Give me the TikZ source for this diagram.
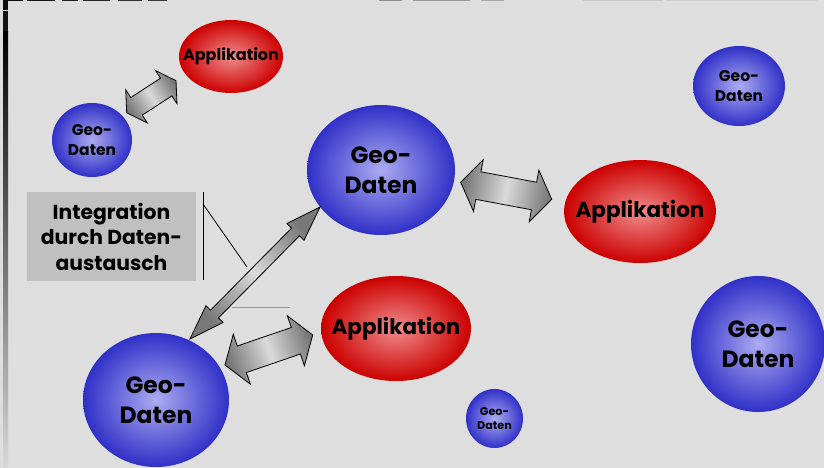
\documentclass[tikz,border=0pt]{standalone}
\usepackage{fontspec}
\setmainfont{Poppins}
\usetikzlibrary{shapes.geometric}
\definecolor{bg}{RGB}{222,222,222}
\definecolor{geoin}{RGB}{172,172,242}
\definecolor{geoout}{RGB}{48,48,200}
\definecolor{appin}{RGB}{240,140,140}
\definecolor{appout}{RGB}{204,0,0}
\definecolor{boxfill}{RGB}{192,192,192}
\definecolor{arrdark}{RGB}{120,120,120}
\definecolor{arrlight}{RGB}{218,218,218}
\newcommand{\fatarrow}[6]{%
\begin{scope}[shift={(#1)}, rotate=#2]
\pgfmathsetmacro{\fahl}{#3/2}
\pgfmathsetmacro{\fahk}{#3/2-#6}
\pgfmathsetmacro{\fashang}{90+#2}
\draw[fatarrowstyle, shading angle=\fashang] (-\fahl,0) -- (-\fahk,#5) -- (-\fahk,#4) -- (\fahk,#4) -- (\fahk,#5) -- (\fahl,0) -- (\fahk,-#5) -- (\fahk,-#4) -- (-\fahk,-#4) -- (-\fahk,-#5) -- cycle;
\end{scope}}
\tikzset{
  fatarrowstyle/.style={draw=black, line width=0.8pt, line join=miter, left color=arrdark, right color=arrdark, middle color=arrlight},
  geo/.style={ellipse, inner sep=0pt, inner color=geoin, outer color=geoout},
  app/.style={ellipse, inner sep=0pt, inner color=appin, outer color=appout},
  lbl/.style={align=center, inner sep=0pt},
  txtbig/.style={font=\bfseries\fontsize{23.5}{29.7}\selectfont},
  txtsmall/.style={font=\bfseries\fontsize{15.5}{19.3}\selectfont},
  txttiny/.style={font=\bfseries\fontsize{11.2}{13.5}\selectfont},
  txtappS/.style={font=\bfseries\fontsize{16}{19}\selectfont},
  txtappB/.style={font=\bfseries\fontsize{21.5}{25}\selectfont},
  callout/.style={draw=black, line width=0.8pt},
  calloutgray/.style={draw=black!40, line width=0.8pt},
}
\begin{document}
\begin{tikzpicture}[x=1pt, y=-1pt]
\useasboundingbox (0,0) rectangle (824,468);
\fill[bg] (0,0) rectangle (824,468);
% window edge artefacts
\shade[top color=black, bottom color=black!15] (3,32) rectangle (8,468);
\fill[black!95] (3,0) rectangle (8,10);
\fill[black!92] (3,11) rectangle (8,31);
\fill[black!95] (8,0) rectangle (23,1.3);
\fill[black!92] (27,0) rectangle (55,1.3);
\fill[black!88] (62,0) rectangle (78,1.3);
\fill[black!85] (83,0) rectangle (110,1.3);
\fill[black!82] (118,0) rectangle (142,1.3);
\fill[black!78] (148,0) rectangle (167,1.3);
\fill[black!45] (379,0) rectangle (402,1);
\fill[black!40] (413,0) rectangle (470,1);
\fill[black!34] (481,0) rectangle (504,1);
\fill[black!22] (583,0) rectangle (663,1);
\fill[black!19] (666,0) rectangle (817,1);
% ellipses
\node[geo, minimum width=80pt, minimum height=74pt] (g1) at (92,140) {};
\node[app, minimum width=104pt, minimum height=73pt] (a1) at (231,56.5) {};
\node[geo, minimum width=148pt, minimum height=130pt] (g2) at (381,170) {};
\node[app, minimum width=152pt, minimum height=103pt] (a2) at (640,211.5) {};
\node[geo, minimum width=92pt, minimum height=80pt] (g3) at (739,86) {};
\node[app, minimum width=150pt, minimum height=105pt] (a3) at (396,328.5) {};
\node[geo, minimum width=146pt, minimum height=134pt] (g4) at (156,400) {};
\node[geo, minimum width=134pt, minimum height=136pt] (g5) at (758,344) {};
\node[geo, minimum width=57pt, minimum height=59pt] (g6) at (494.5,418.5) {};
% ellipse texts
\node[lbl, txtsmall] (t1) at (g1) {Geo-\\Daten};
\node[lbl, txtappS] (t2) at (a1) {Applikation};
\node[lbl, txtbig] (t3) at (g2) {Geo-\\Daten};
\node[lbl, txtappB] (t4) at (a2) {Applikation};
\node[lbl, txtsmall] (t5) at (g3) {Geo-\\Daten};
\node[lbl, txtappB] (t6) at (a3) {Applikation};
\node[lbl, txtbig] (t7) at (g4) {Geo-\\Daten};
\node[lbl, txtbig] (t8) at (g5) {Geo-\\Daten};
\node[lbl, txttiny] (t9) at (g6) {Geo-\\Daten};
% label box and callout
\node[fill=boxfill, inner sep=0pt, minimum width=169pt, minimum height=89pt, align=center, font=\bfseries\fontsize{20.3}{25.5}\selectfont] (box) at (111.5,236.5) {Integration\\durch Daten-\\austausch};
\coordinate (v1) at (203,192);
\coordinate (v2) at (203,280);
\coordinate (d1) at (203,204);
\coordinate (d2) at (247,267);
\coordinate (h1) at (232,307);
\coordinate (h2) at (290,307);
\draw[callout] (v1) -- (v2);
\draw[callout] (d1) -- (d2);
\draw[calloutgray] (h1) -- (h2);
% arrows
\coordinate (mA) at (151.35,96.7);
\coordinate (mB) at (506.2,190.8);
\coordinate (mC) at (268.85,350);
\coordinate (mD) at (255,273);
\fatarrow{mA}{33.0}{58.8}{10.5}{19.8}{11.7}
\fatarrow{mB}{-10.6}{92.6}{14}{26.3}{18}
\fatarrow{mC}{18.9}{92.7}{14}{26.4}{17.8}
\fatarrow{mD}{45.4}{185.3}{5.5}{12}{35}
\end{tikzpicture}
\end{document}
